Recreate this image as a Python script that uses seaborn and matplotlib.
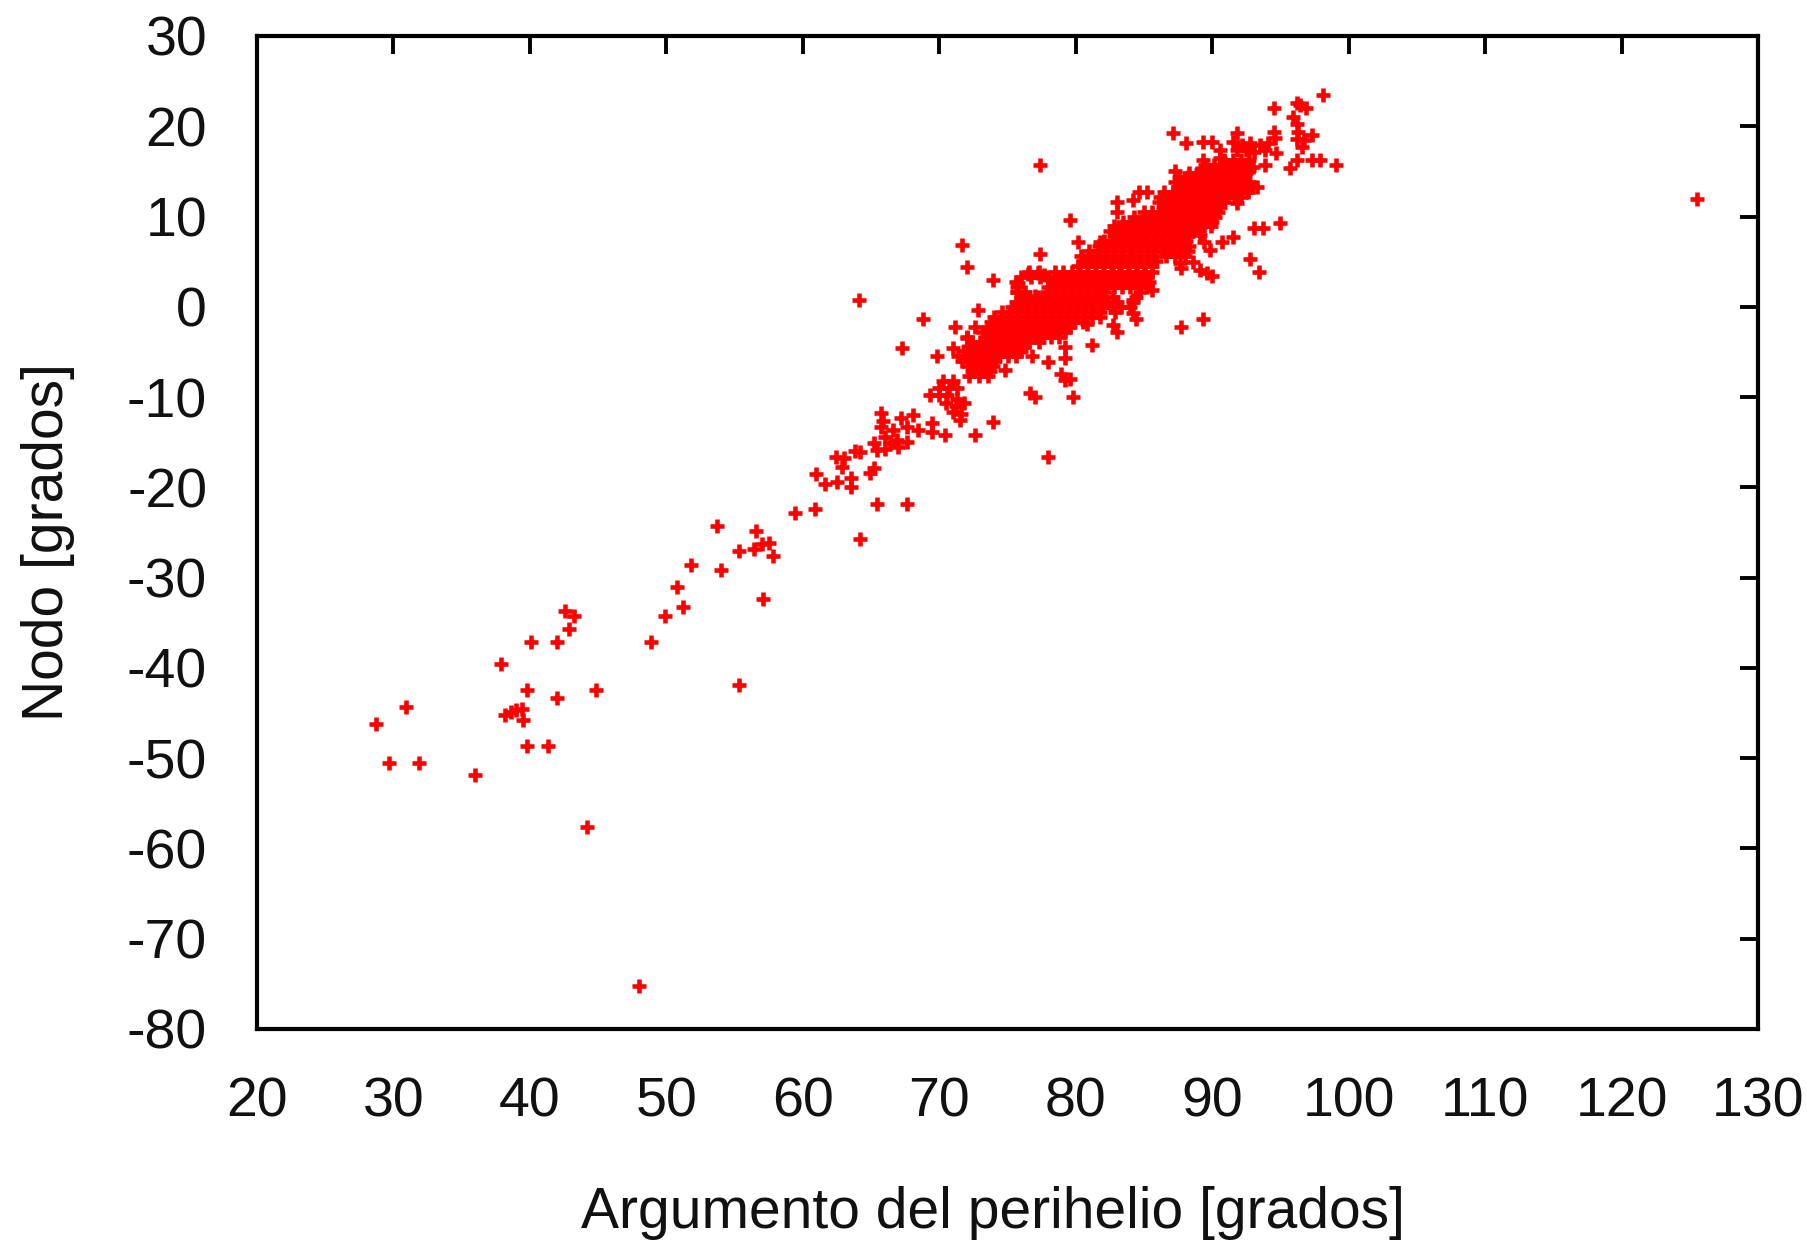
import matplotlib
matplotlib.use("Agg")
import matplotlib.pyplot as plt
import seaborn as sns
import numpy as np
import pandas as pd

# ---------------- data ----------------
# isolated / sparse points: argument of perihelion (deg), node (deg)
sparse_x = [28.7, 29.7, 30.9, 31.9, 36.0, 37.9, 38.2, 38.6, 39.0, 39.4, 39.5, 39.8, 39.8, 40.1,
            41.3, 42.0, 42.0, 42.6, 43.25, 42.9, 44.2, 44.85, 48.0, 48.9, 49.9, 50.8, 51.2, 51.8,
            53.7, 54.0, 55.3, 55.3, 56.4, 56.55, 57.0, 57.5, 57.8, 57.1, 59.4,
            60.9, 61.0, 61.6, 62.5, 62.9, 63.0, 63.8, 63.5, 63.5, 62.4, 64.2, 65.2, 64.9, 65.4, 67.6,
            65.7, 65.9, 65.7, 67.2, 68.1, 67.6, 66.6, 66.0, 66.9, 67.6, 65.2, 65.4, 66.0, 64.2, 67.0, 66.4,
            70.3, 71.0, 70.0, 70.7, 71.3, 69.3, 70.0, 70.6, 71.3, 70.5, 71.2, 71.8, 71.0, 71.6, 71.5,
            87.15, 88.1, 89.35, 89.95, 90.6, 90.6, 91.8,
            91.55, 92.15, 92.8, 93.5, 94.1, 94.6, 93.9, 94.7, 91.8, 92.5, 93.1, 94.5,
            94.5, 96.4, 96.9, 96.2, 95.9, 96.2, 96.3, 96.7, 97.3, 96.2, 96.55, 98.15,
            96.2, 95.7, 97.3, 97.9, 99.1, 93.9, 93.0, 89.35, 87.3,
            91.8, 93.1, 93.7, 95.0, 91.55, 90.7, 89.85, 92.8, 93.4, 89.1, 89.95, 87.75, 87.65,
            89.1, 89.4, 88.6, 89.6,
            89.35, 87.75, 85.6, 84.2, 84.2, 83.0, 81.2, 79.8, 79.2, 79.2, 79.2, 78.0, 76.8, 76.65,
            77.0, 78.9, 79.6, 74.8,
            78.0, 73.9, 72.6, 70.4, 69.45, 69.45, 68.45,
            67.25, 68.8, 69.8, 71.0, 71.15, 72.6, 72.85, 72.0, 71.65, 72.0, 73.9, 77.4, 77.4, 79.6,
            83.0, 83.0, 84.6, 85.2, 84.2, 80.2, 81.8, 80.8, 82.75, 84.45, 64.1,
            76.5, 77.2, 77.7, 75.8, 75.7, 76.2, 77.0,
            125.55]
sparse_y = [-46.2, -50.5, -44.3, -50.5, -51.9, -39.55, -45.2, -44.9, -44.7, -44.6, -45.8, -42.4, -48.6, -37.1,
            -48.6, -37.1, -43.3, -33.7, -34.2, -35.7, -57.6, -42.4, -75.2, -37.1, -34.3, -31.0, -33.3, -28.6,
            -24.3, -29.1, -27.1, -41.9, -26.8, -24.8, -26.25, -26.2, -27.6, -32.35, -22.8,
            -22.4, -18.5, -19.6, -19.4, -17.75, -16.8, -16.0, -19.0, -20.0, -16.6, -25.7, -17.9, -18.4, -21.8, -21.8,
            -11.8, -12.7, -13.3, -12.35, -12.0, -13.3, -13.65, -14.4, -14.75, -14.95, -15.1, -15.9, -15.7, -16.05, -15.5, -15.1,
            -8.2, -8.2, -9.0, -9.0, -9.0, -9.8, -9.8, -9.8, -10.2, -10.6, -11.0, -10.6, -11.6, -11.9, -12.5,
            19.2, 18.1, 18.3, 18.3, 17.35, 16.45, 19.2,
            18.3, 17.9, 18.1, 17.9, 18.1, 18.65, 17.35, 17.0, 17.35, 17.35, 17.2, 19.4,
            22.0, 22.35, 22.0, 22.55, 21.05, 20.3, 19.4, 18.5, 19.0, 18.55, 17.75, 23.45,
            16.25, 15.35, 16.25, 16.25, 15.7, 15.7, 15.5, 16.25, 15.0,
            11.45, 8.7, 8.7, 9.25, 7.75, 7.2, 6.3, 5.3, 3.9, 4.1, 3.4, 4.25, 4.8,
            7.9, 7.2, 5.0, 3.7,
            -1.3, -2.2, 1.85, 0.75, -0.7, -2.75, -4.25, -9.95, -8.1, -5.7, -4.4, -6.1, -5.5, -9.6,
            -10.0, -7.4, -8.0, -7.0,
            -16.6, -12.75, -14.2, -14.2, -12.9, -13.85, -13.65,
            -4.6, -1.3, -5.5, -4.6, -2.2, -2.2, -0.35, -3.5, 6.85, 4.45, 2.95, 5.9, 15.7, 9.6,
            11.65, 10.55, 12.75, 12.75, 11.85, 7.2, 7.2, -1.85, -2.0, -1.3, 0.7,
            3.6, 3.7, 3.5, 2.6, 1.6, 1.2, 1.2,
            11.9]

# dense core of the distribution, read row by row (node value, then perihelion values)
core_y = [16.3, 15.75, 15.2, 14.8, 14.4, 13.85, 13.3, 12.75, 12.2, 11.65, 11.1, 10.55,
          10.0, 9.45, 8.9, 8.35, 7.8, 7.25, 6.7, 6.15, 5.6, 5.05, 4.5, 3.9,
          3.3, 2.75, 2.2, 1.65, 1.1, 0.55, 0.0, -0.55, -1.1, -1.65, -2.2, -2.75,
          -3.3, -3.85, -4.4, -4.95, -5.5, -6.05, -6.6, -7.15, -7.7]
core_x = [
    [90.9, 91.5, 92.1, 92.7],
    [89.5, 90.1, 90.7, 91.3, 91.9, 92.5],
    [89.2, 89.8, 90.4, 91.0, 91.6, 92.2, 92.7],
    [88.3, 88.9, 89.5, 90.1, 90.7, 91.3, 91.9, 92.5],
    [87.6, 88.2, 88.8, 89.4, 90.0, 90.6, 91.2, 91.8, 92.4],
    [87.3, 87.9, 88.5, 89.1, 89.7, 90.3, 90.9, 91.5, 92.1, 92.7],
    [87.5, 88.1, 88.7, 89.3, 89.9, 90.5, 91.1, 91.7, 92.3, 92.9, 93.3],
    [86.5, 87.1, 87.7, 88.3, 88.9, 89.5, 90.1, 90.7, 91.3, 91.9, 92.6],
    [86.2, 86.8, 87.4, 88.0, 88.6, 89.2, 89.8, 90.4, 91.0, 91.6, 92.1],
    [86.1, 86.7, 87.3, 87.9, 88.5, 89.1, 89.7, 90.3, 90.9],
    [86.4, 87.0, 87.6, 88.2, 88.8, 89.4, 90.0, 90.6],
    [85.0, 85.6, 86.2, 86.8, 87.4, 88.0, 88.6, 89.2, 89.8, 90.4],
    [84.3, 84.9, 85.5, 86.1, 86.7, 87.3, 87.9, 88.5, 89.1, 89.7, 90.2],
    [83.5, 84.1, 84.7, 85.3, 85.9, 86.5, 87.1, 87.7, 88.3, 88.9, 89.5, 90.0],
    [82.8, 83.4, 84.0, 84.6, 85.2, 85.8, 86.4, 87.0, 87.6, 88.2, 88.8, 89.4, 89.9],
    [82.5, 83.1, 83.7, 84.3, 84.9, 85.5, 86.1, 86.7, 87.3, 87.9, 88.5],
    [82.8, 83.4, 84.0, 84.6, 85.2, 85.8, 86.4, 87.0, 87.6, 88.2],
    [82.1, 82.7, 83.3, 83.9, 84.5, 85.1, 85.7, 86.3, 86.9, 87.5, 88.1],
    [81.7, 82.3, 82.9, 83.5, 84.1, 84.7, 85.3, 85.9, 86.5, 87.1, 87.7, 88.3],
    [81.0, 81.6, 82.2, 82.8, 83.4, 84.0, 84.6, 85.2, 85.8, 86.4, 87.0, 87.6, 88.2],
    [80.4, 81.0, 81.6, 82.2, 82.8, 83.4, 84.0, 84.6, 85.2, 85.7, 86.6, 87.3, 88.0],
    [80.5, 81.1, 81.7, 82.3, 82.9, 83.5, 84.1, 84.7, 85.3, 85.9],
    [80.2, 80.8, 81.4, 82.0, 82.6, 83.2, 83.8, 84.4, 85.0, 85.6],
    [76.6, 77.3, 78.5, 79.1, 79.7, 80.3, 80.9, 81.5, 82.1, 82.7, 83.3, 83.9, 84.5, 85.1, 85.6],
    [76.0, 76.7, 77.4, 78.0, 78.6, 79.2, 79.8, 80.4, 81.0, 81.6, 82.2, 82.8, 83.4, 84.0, 84.6, 85.2],
    [75.6, 78.3, 78.9, 79.5, 80.1, 80.7, 81.3, 81.9, 82.5, 83.1, 83.7, 84.3, 84.9, 85.4],
    [75.7, 78.0, 78.6, 79.2, 79.8, 80.4, 81.0, 81.6, 82.2, 82.8, 83.4, 84.0, 84.6, 85.2],
    [75.7, 76.3, 77.9, 78.5, 79.1, 79.7, 80.3, 80.9, 81.5, 82.1, 84.7],
    [76.0, 76.6, 77.2, 77.8, 78.4, 79.0, 79.6, 80.2, 80.8, 81.4, 81.9, 82.7, 84.4],
    [75.6, 76.2, 76.8, 77.4, 78.0, 78.6, 79.2, 79.8, 80.4, 81.0, 81.6, 82.3, 83.0, 84.2],
    [75.3, 75.9, 76.5, 77.1, 77.7, 78.3, 78.9, 79.5, 80.1, 80.7, 81.3, 81.9, 82.6, 83.3, 84.0],
    [74.6, 75.2, 75.8, 76.4, 77.0, 77.6, 78.2, 78.8, 79.4, 80.0, 80.6, 81.2, 81.8, 82.9],
    [74.0, 74.6, 75.2, 75.8, 76.4, 77.0, 77.6, 78.2, 78.8, 79.4, 80.0, 80.6, 81.2, 81.8],
    [73.8, 74.4, 75.0, 75.6, 76.2, 76.8, 77.4, 78.0, 78.6, 79.2, 79.8, 80.5],
    [73.6, 74.2, 74.8, 75.4, 76.0, 76.6, 77.2, 77.8, 78.4, 79.0, 79.6],
    [73.2, 73.8, 74.4, 75.0, 75.6, 76.2, 76.8, 77.4, 78.0, 78.6, 79.2],
    [72.0, 73.4, 74.0, 74.6, 75.2, 75.8, 76.4, 77.0, 77.6, 78.2, 78.8],
    [72.4, 73.0, 73.6, 74.2, 74.8, 75.4, 76.0, 76.6, 77.3],
    [72.1, 72.7, 73.3, 73.9, 74.5, 75.1, 75.7, 76.2],
    [71.8, 72.4, 73.0, 73.6, 74.2, 74.8, 75.4, 76.0],
    [71.4, 72.0, 72.6, 73.2, 73.8, 74.4, 75.0, 75.6],
    [71.7, 72.3, 72.9, 73.5, 74.1],
    [72.1, 72.7, 73.3, 73.9],
    [72.4, 73.1, 73.7],
    [72.2, 72.9, 73.6],
]

x_ticks = [20, 30, 40, 50, 60, 70, 80, 90, 100, 110, 120, 130]
y_ticks = [-80, -70, -60, -50, -40, -30, -20, -10, 0, 10, 20, 30]
x_label = "Argumento del perihelio [grados]"
y_label = "Nodo [grados]"

# ---------------- build table ----------------
xs = list(sparse_x)
ys = list(sparse_y)
for yv, row in zip(core_y, core_x):
    xs.extend(row)
    ys.extend([yv] * len(row))
df = pd.DataFrame({"perihelio": xs, "nodo": ys})

# ---------------- plot ----------------
sns.set_style("white")
plt.rcParams["font.family"] = ["Liberation Sans", "DejaVu Sans"]

fig = plt.figure(figsize=(18.07, 12.42), dpi=100)
ax = fig.add_axes([0.14223, 0.17150, 0.83066, 0.79952])

sns.scatterplot(data=df, x="perihelio", y="nodo", marker="+", s=112,
                color="#ff0000", linewidth=3.3, ax=ax, legend=False, zorder=3)

ax.set_xlim(20, 130)
ax.set_ylim(-80, 30)
ax.set_xticks(x_ticks)
ax.set_yticks(y_ticks)
ax.set_xticklabels([str(v) for v in x_ticks])
ax.set_yticklabels([str(v) for v in y_ticks])

for sp in ax.spines.values():
    sp.set_visible(True)
    sp.set_linewidth(3.0)
    sp.set_color("black")

ax.tick_params(axis="both", which="major", direction="in", length=13, width=2.8,
               color="black", labelsize=40, labelcolor="#111111",
               top=True, right=True)
ax.tick_params(axis="y", pad=36)
ax.tick_params(axis="x", pad=34)

ax.set_xlabel(x_label, fontsize=41, color="#111111")
ax.set_ylabel(y_label, fontsize=41, color="#111111")
ax.xaxis.set_label_coords(0.490, -0.158)
ax.yaxis.set_label_coords(-0.121, 0.49)
ax.grid(False)

fig.savefig("out.png", dpi=100, facecolor="white")
